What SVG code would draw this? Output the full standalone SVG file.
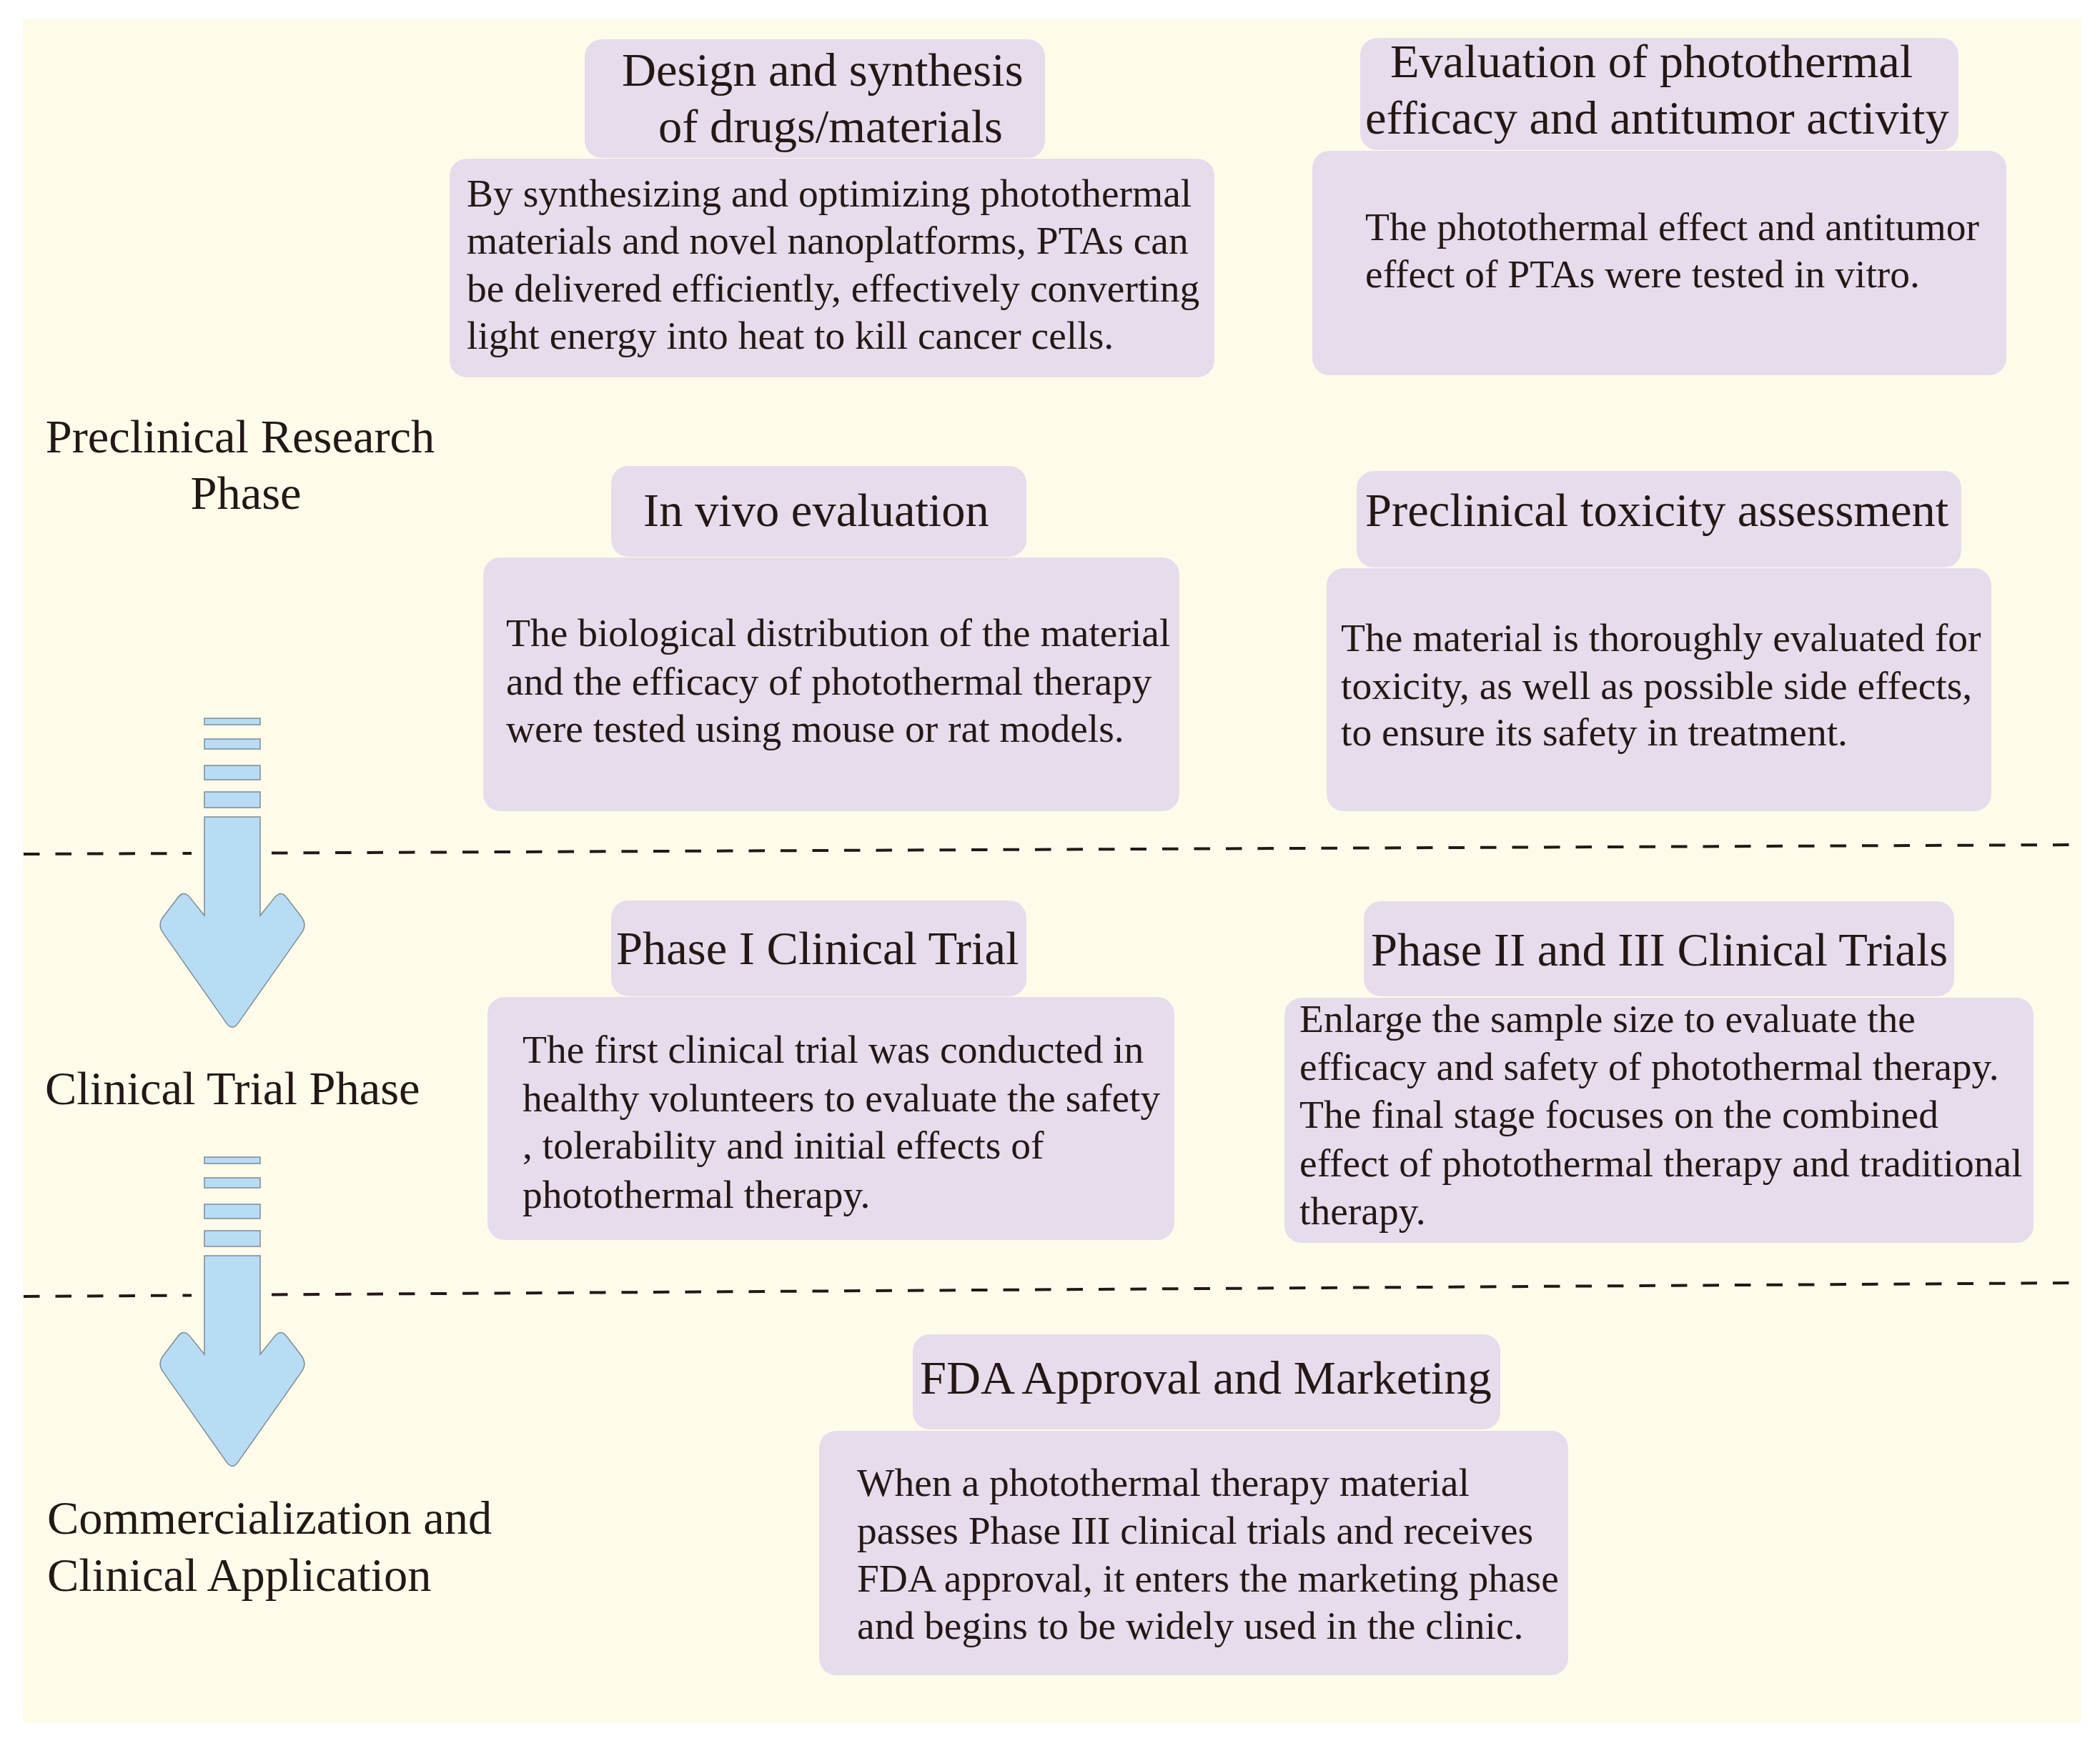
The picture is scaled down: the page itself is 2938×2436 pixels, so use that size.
<svg xmlns="http://www.w3.org/2000/svg" width="2938" height="2436" viewBox="0 0 2938 2436">
<defs>
<style>
.bg{fill:#FEFBEB}
.box{fill:#E7DCEB}
.t{font-family:"Liberation Serif","Times New Roman",serif;fill:#231815}
.h{font-size:66.5px}
.b{font-size:55.5px}
.sep{stroke:#231815;stroke-width:4;stroke-dasharray:22.5 22;fill:none}
.arr{fill:#B8DCF3;stroke:#7E8B95;stroke-width:1.5}
</style>
<g id="arrowShape">
<rect class="arr" x="286" y="1005" width="78" height="9"/>
<rect class="arr" x="286" y="1034" width="78" height="14"/>
<rect class="arr" x="286" y="1071" width="78" height="20"/>
<rect class="arr" x="286" y="1108" width="78" height="22"/>
<path class="arr" d="M286,1143 H364 V1281 L384.2,1255.9 Q393,1245 401.4,1256.2 L421.6,1282.8 Q430,1294 421.9,1305.4 L333.1,1431.6 Q325,1443 316.9,1431.6 L228.1,1305.4 Q220,1294 228.4,1282.8 L248.6,1256.2 Q257,1245 265.8,1255.9 L286,1281 Z"/>
</g>
</defs>
<rect width="2938" height="2436" fill="#FFFFFF"/>
<rect class="bg" x="32" y="26" width="2880" height="2384"/>

<g id="separators">
<line class="sep" x1="33" y1="1195" x2="268" y2="1194"/>
<line class="sep" x1="380" y1="1193.5" x2="2905" y2="1182"/>
<line class="sep" x1="33" y1="1814" x2="268" y2="1812.5"/>
<line class="sep" x1="380" y1="1811.5" x2="2905" y2="1795"/>
</g>

<g id="connectors">
<use href="#arrowShape"/>
<use href="#arrowShape" transform="translate(0,614)"/>
</g>

<g id="label-preclinical">
<text class="t h" x="336" y="633" text-anchor="middle">Preclinical Research</text>
<text class="t h" x="344" y="712" text-anchor="middle">Phase</text>
</g>
<g id="label-clinical">
<text class="t h" x="63" y="1545">Clinical Trial Phase</text>
</g>
<g id="label-commercial">
<text class="t h" x="66" y="2146">Commercialization and</text>
<text class="t h" x="66" y="2226">Clinical Application</text>
</g>

<g id="node-design">
<rect class="box" x="818" y="55" width="644" height="166" rx="24"/>
<rect class="box" x="629" y="222" width="1070" height="306" rx="24"/>
<text class="t h" x="870" y="120">Design and synthesis</text>
<text class="t h" x="921" y="199">of drugs/materials</text>
<text class="t b" x="653" y="289">By synthesizing and optimizing photothermal</text>
<text class="t b" x="653" y="355">materials and novel nanoplatforms, PTAs can</text>
<text class="t b" x="653" y="422">be delivered efficiently, effectively converting</text>
<text class="t b" x="653" y="488">light energy into heat to kill cancer cells.</text>
</g>

<g id="node-evaluation">
<rect class="box" x="1903" y="53" width="837" height="157" rx="24"/>
<rect class="box" x="1836" y="211" width="971" height="314" rx="24"/>
<text class="t h" x="1945" y="108">Evaluation of photothermal</text>
<text class="t h" x="1910" y="187">efficacy and antitumor activity</text>
<text class="t b" x="1910" y="336">The photothermal effect and antitumor</text>
<text class="t b" x="1910" y="402">effect of PTAs were tested in vitro.</text>
</g>

<g id="node-invivo">
<rect class="box" x="855" y="652" width="581" height="127" rx="24"/>
<rect class="box" x="676" y="780" width="974" height="355" rx="24"/>
<text class="t h" x="900" y="736">In vivo evaluation</text>
<text class="t b" x="708" y="904">The biological distribution of the material</text>
<text class="t b" x="708" y="972">and the efficacy of photothermal therapy</text>
<text class="t b" x="708" y="1038">were tested using mouse or rat models.</text>
</g>

<g id="node-toxicity">
<rect class="box" x="1898" y="659" width="846" height="135" rx="24"/>
<rect class="box" x="1856" y="795" width="930" height="340" rx="24"/>
<text class="t h" x="1910" y="736">Preclinical toxicity assessment</text>
<text class="t b" x="1876" y="911">The material is thoroughly evaluated for</text>
<text class="t b" x="1876" y="978">toxicity, as well as possible side effects,</text>
<text class="t b" x="1876" y="1043">to ensure its safety in treatment.</text>
</g>

<g id="node-phase1">
<rect class="box" x="855" y="1260" width="581" height="134" rx="24"/>
<rect class="box" x="682" y="1395" width="961" height="340" rx="24"/>
<text class="t h" x="862" y="1349">Phase I Clinical Trial</text>
<text class="t b" x="731" y="1487">The first clinical trial was conducted in</text>
<text class="t b" x="731" y="1555">healthy volunteers to evaluate the safety</text>
<text class="t b" x="731" y="1621">, tolerability and initial effects of</text>
<text class="t b" x="731" y="1690">photothermal therapy.</text>
</g>

<g id="node-phase23">
<rect class="box" x="1908" y="1261" width="826" height="133" rx="24"/>
<rect class="box" x="1797" y="1396" width="1048" height="343" rx="24"/>
<text class="t h" x="1918" y="1351">Phase II and III Clinical Trials</text>
<text class="t b" x="1818" y="1444">Enlarge the sample size to evaluate the</text>
<text class="t b" x="1818" y="1511">efficacy and safety of photothermal therapy.</text>
<text class="t b" x="1818" y="1578">The final stage focuses on the combined</text>
<text class="t b" x="1818" y="1646">effect of photothermal therapy and traditional</text>
<text class="t b" x="1818" y="1713">therapy.</text>
</g>

<g id="node-fda">
<rect class="box" x="1277" y="1867" width="822" height="133" rx="24"/>
<rect class="box" x="1146" y="2002" width="1048" height="342" rx="24"/>
<text class="t h" x="1287" y="1950">FDA Approval and Marketing</text>
<text class="t b" x="1199" y="2093">When a photothermal therapy material</text>
<text class="t b" x="1199" y="2160">passes Phase III clinical trials and receives</text>
<text class="t b" x="1199" y="2227">FDA approval, it enters the marketing phase</text>
<text class="t b" x="1199" y="2293">and begins to be widely used in the clinic.</text>
</g>
</svg>
